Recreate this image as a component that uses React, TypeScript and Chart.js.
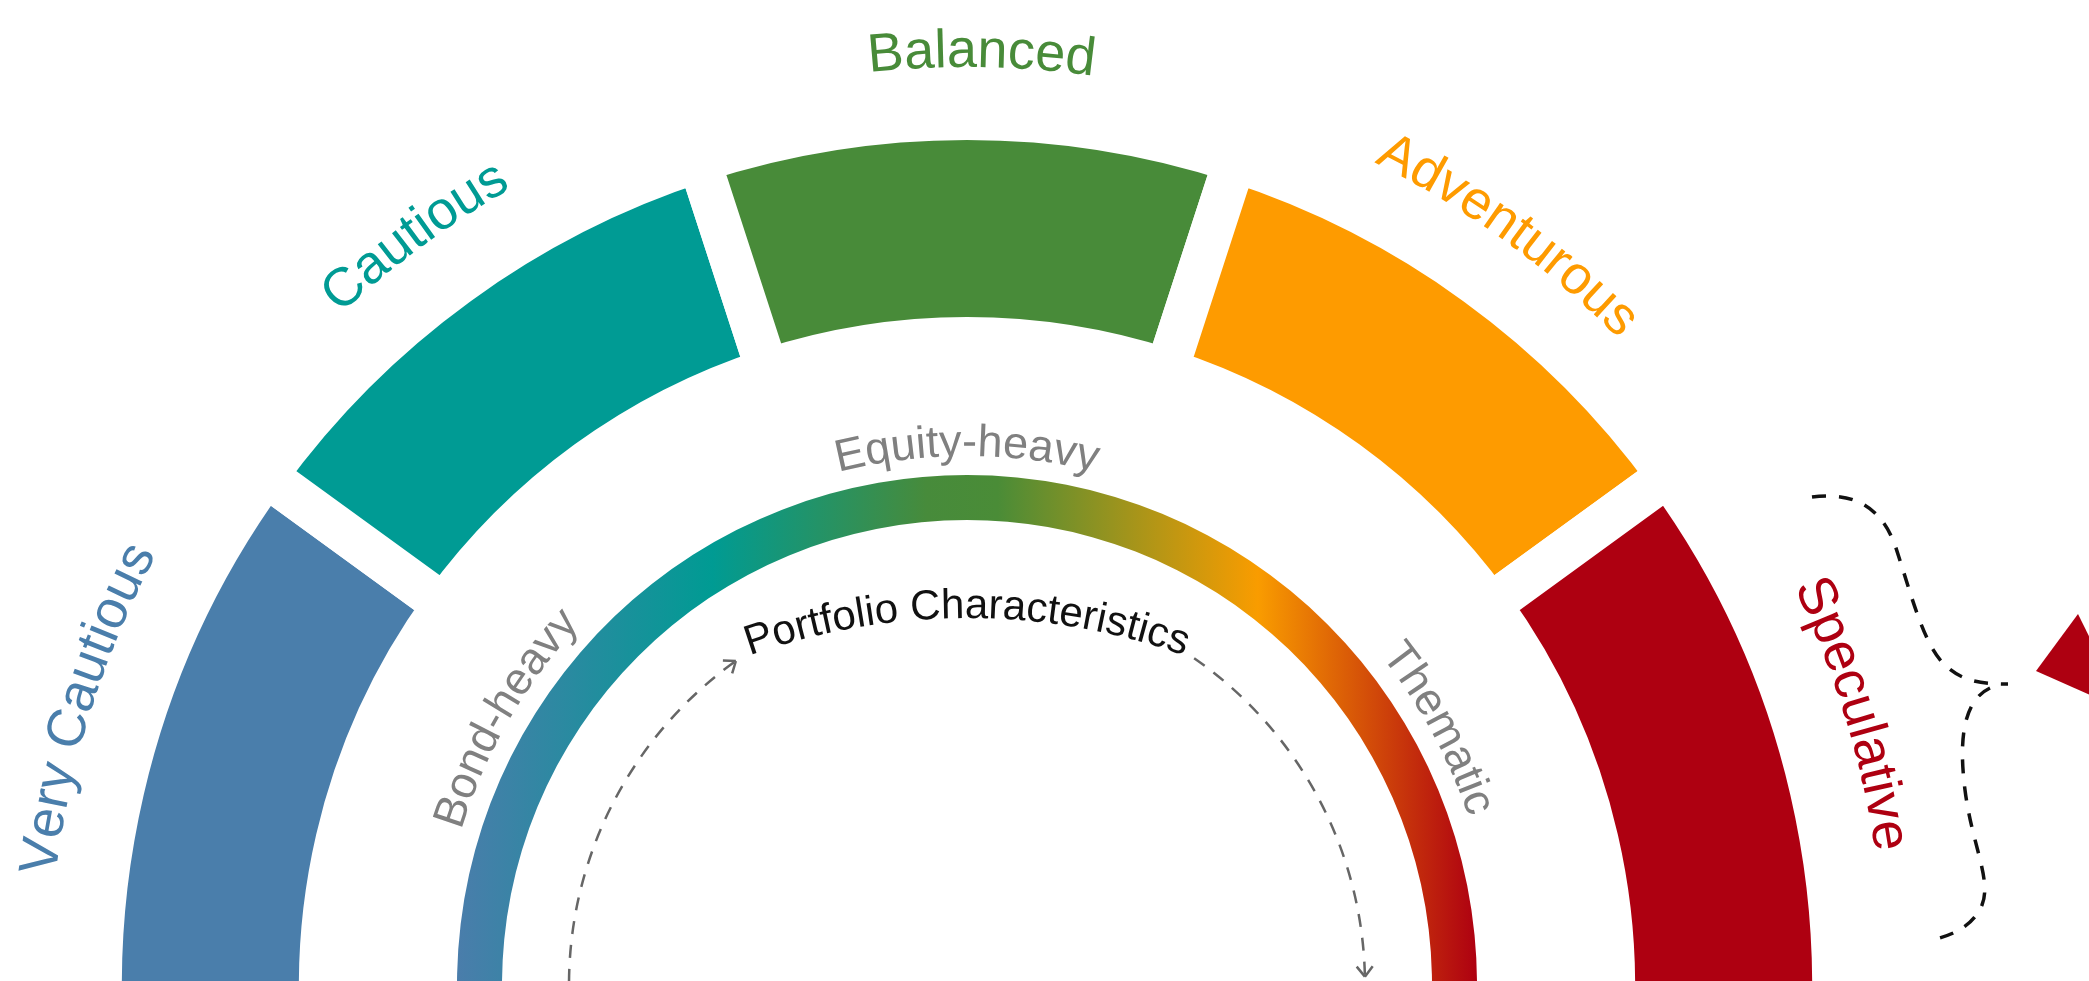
import { useEffect, useRef } from 'react';
import { Chart, registerables } from 'chart.js';

Chart.register(...registerables);

// ---------- data ----------
const profiles = ['Very Cautious', 'Cautious', 'Balanced', 'Adventurous', 'Speculative'];
const profileShares = [1, 1, 1, 1, 1];
const profileColors = ['#4A7EAB', '#009B94', '#488B39', '#FE9B00', '#AE0011'];
const characteristics = ['Bond-heavy', 'Equity-heavy', 'Thematic'];
const centreTitle = 'Portfolio Characteristics';
const gradientStops: [number, string][] = [
  [0, '#4A7DAB'],
  [0.25, '#009B93'],
  [0.46, '#478B3B'],
  [0.53, '#4A8C37'],
  [0.785, '#F99C00'],
  [1, '#AE0011'],
];

// ---------- layout ----------
const W = 2089;
const H = 981;
const CX = 967;
const CY = 985;
const GAP = 43; // white gap between segments
const OUTER_R = 845;
const OUTER_IN = 668;
const GRAD_OUT = 510;
const GRAD_IN = 465;
const EXT = 10; // degrees hidden below the page on each side
const profileLabelAngles = [-72.6, -36.4, 0.9, 35.8, 73];
const charAngles = [-60, 0, 61.5];
const FONT = '"Liberation Sans", Arial, Helvetica, sans-serif';

const chartR = OUTER_R + GAP / 2;
const ringIn = OUTER_IN - GAP / 2;
const rad = (d: number) => (d * Math.PI) / 180;

function arcText(
  ctx: CanvasRenderingContext2D,
  text: string,
  cx: number,
  cy: number,
  r: number,
  centerDeg: number,
  font: string,
  color: string
) {
  ctx.save();
  ctx.font = font;
  ctx.fillStyle = color;
  ctx.textAlign = 'center';
  ctx.textBaseline = 'alphabetic';
  const chars = [...text];
  const widths = chars.map((c) => ctx.measureText(c).width);
  const total = widths.reduce((a, b) => a + b, 0);
  let a = rad(centerDeg) - total / r / 2;
  chars.forEach((ch, i) => {
    const th = a + widths[i] / 2 / r;
    ctx.save();
    ctx.translate(cx + r * Math.sin(th), cy - r * Math.cos(th));
    ctx.rotate(th);
    ctx.fillText(ch, 0, 0);
    ctx.restore();
    a += widths[i] / r;
  });
  ctx.restore();
}

function dashedArcArrow(
  ctx: CanvasRenderingContext2D,
  cx: number,
  cy: number,
  r: number,
  fromDeg: number,
  toDeg: number,
  color: string
) {
  const a0 = rad(fromDeg - 90);
  const a1 = rad(toDeg - 90);
  ctx.save();
  ctx.strokeStyle = color;
  ctx.lineWidth = 2.5;
  ctx.setLineDash([13, 11]);
  ctx.beginPath();
  ctx.arc(cx, cy, r, a0, a1, a1 < a0);
  ctx.stroke();
  const dir = a1 > a0 ? 1 : -1;
  const tx = cx + r * Math.cos(a1);
  const ty = cy + r * Math.sin(a1);
  const dx = -Math.sin(a1) * dir;
  const dy = Math.cos(a1) * dir;
  const L = 13;
  ctx.setLineDash([]);
  ctx.lineWidth = 2.5;
  ctx.beginPath();
  for (const s of [1, -1]) {
    const ang = Math.atan2(dy, dx) + Math.PI + s * rad(38);
    ctx.moveTo(tx, ty);
    ctx.lineTo(tx + L * Math.cos(ang), ty + L * Math.sin(ang));
  }
  ctx.stroke();
  ctx.restore();
}

const decorPlugin = {
  id: 'decor',
  afterDatasetsDraw(chart: any) {
    const arc = chart.getDatasetMeta(0).data[0];
    if (!arc) return;
    const cx = arc.x;
    const cy = arc.y;
    const ctx: CanvasRenderingContext2D = chart.ctx;
    profiles.forEach((p, i) => {
      arcText(ctx, p, cx, cy, 918, profileLabelAngles[i], `54px ${FONT}`, profileColors[i]);
    });
    characteristics.forEach((c, i) => {
      arcText(ctx, c, cx, cy, 529, charAngles[i], `45px ${FONT}`, '#808080');
    });
    // title sits on a flatter arc than the rings
    arcText(ctx, centreTitle, cx, cy + 283, 650, 0, `42px ${FONT}`, '#111111');

    dashedArcArrow(ctx, cx, cy, 398, -93, -35.5, '#666666');
    dashedArcArrow(ctx, cx, cy, 398, 34.8, 88.8, '#666666');

    // brace
    ctx.save();
    ctx.strokeStyle = '#111111';
    ctx.lineWidth = 3.5;
    ctx.setLineDash([14, 13]);
    ctx.beginPath();
    ctx.moveTo(1812, 497);
    ctx.bezierCurveTo(1852, 492, 1880, 505, 1895, 545);
    ctx.bezierCurveTo(1910, 590, 1922, 640, 1942, 662);
    ctx.bezierCurveTo(1958, 679, 1975, 684, 2008, 684);
    ctx.moveTo(1990, 688);
    ctx.bezierCurveTo(1965, 700, 1958, 735, 1965, 790);
    ctx.bezierCurveTo(1972, 845, 1992, 880, 1982, 905);
    ctx.bezierCurveTo(1972, 928, 1950, 936, 1928, 941);
    ctx.stroke();
    ctx.restore();

    // red pointer
    ctx.save();
    ctx.fillStyle = '#AE0011';
    ctx.beginPath();
    ctx.moveTo(2036, 671);
    ctx.lineTo(2078, 614);
    ctx.lineTo(2126, 711);
    ctx.closePath();
    ctx.fill();
    ctx.restore();
  },
};

export default function App() {
  const ref = useRef<HTMLCanvasElement>(null);

  useEffect(() => {
    const canvas = ref.current;
    if (!canvas) return;
    const total = profileShares.reduce((a, b) => a + b, 0);
    const tail = (EXT * total) / 180;
    const ringData = profileShares.map((v, i) =>
      i === 0 || i === profileShares.length - 1 ? v + tail : v
    );
    const offY = (1 - Math.sin(rad(EXT))) / 2;
    const areaCY = CY - offY * chartR;
    const topPad = 2 * areaCY - H;

    const chart = new Chart(canvas, {
      type: 'doughnut',
      data: {
        labels: profiles,
        datasets: [
          {
            label: 'Risk profile',
            data: ringData,
            backgroundColor: profileColors,
            borderColor: '#ffffff',
            borderWidth: GAP,
            borderAlign: 'center',
            weight: chartR - ringIn,
          } as any,
          {
            label: 'spacer',
            data: [1],
            backgroundColor: 'rgba(0,0,0,0)',
            borderWidth: 0,
            weight: ringIn - GRAD_OUT,
          } as any,
          {
            label: 'Portfolio characteristics',
            data: [1],
            backgroundColor: (c: any) => {
              const g = c.chart.ctx.createLinearGradient(CX - GRAD_OUT, 0, CX + GRAD_OUT, 0);
              gradientStops.forEach(([o, col]) => g.addColorStop(o, col));
              return g;
            },
            borderWidth: 0,
            weight: GRAD_OUT - GRAD_IN,
          } as any,
        ],
      },
      options: {
        responsive: false,
        animation: false,
        devicePixelRatio: 1,
        events: [],
        rotation: -90 - EXT,
        circumference: 180 + 2 * EXT,
        radius: chartR,
        cutout: `${(GRAD_IN / chartR) * 100}%`,
        layout: { padding: { left: 0, right: W - 2 * CX, top: topPad, bottom: 0 } },
        plugins: { legend: { display: false }, tooltip: { enabled: false } },
      } as any,
      plugins: [decorPlugin],
    });
    return () => chart.destroy();
  }, []);

  return (
    <div style={{ position: 'fixed', left: 0, top: 0, width: W, height: H, background: '#ffffff', overflow: 'hidden' }}>
      <canvas ref={ref} width={W} height={H} style={{ display: 'block', width: W, height: H }} />
    </div>
  );
}
